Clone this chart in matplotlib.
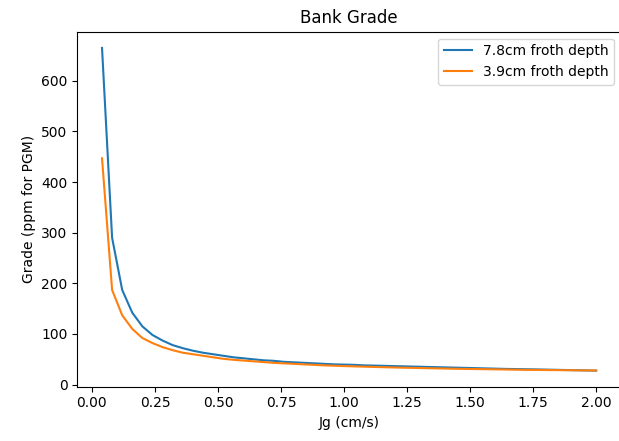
import matplotlib
matplotlib.use('Agg')
import matplotlib.pyplot as plt

# Superficial gas velocity [cm/s]
jg = [0.04, 0.08, 0.12, 0.16, 0.20, 0.24, 0.28, 0.32, 0.36, 0.40,
      0.44, 0.48, 0.52, 0.56, 0.60, 0.64, 0.68, 0.72, 0.76, 0.80,
      0.84, 0.88, 0.92, 0.96, 1.00, 1.04, 1.08, 1.12, 1.16, 1.20,
      1.24, 1.28, 1.32, 1.36, 1.40, 1.44, 1.48, 1.52, 1.56, 1.60,
      1.64, 1.68, 1.72, 1.76, 1.80, 1.84, 1.88, 1.92, 1.96, 2.00]

# Bank grade, 7.8 cm froth depth
grade_deep = [665, 290, 187, 142, 115, 98, 87, 78, 72, 67,
              63, 60, 57, 54, 52, 50, 48, 47, 45, 44,
              43, 42, 41, 40, 39.5, 39, 38, 37.5, 37, 36.5,
              36, 35.5, 35, 34.5, 34, 33.5, 33, 32.5, 32, 31.5,
              31, 30.7, 30.3, 30, 29.6, 29.2, 28.8, 28.4, 28, 27.6]

# Bank grade, 3.9 cm froth depth
grade_shallow = [447, 187, 137, 110, 92, 82, 74, 68, 63, 60,
                 57, 54, 51, 49, 47.5, 46, 44.5, 43, 42, 41,
                 40, 39, 38, 37.3, 36.6, 36, 35.4, 34.8, 34.3, 33.8,
                 33.3, 32.9, 32.5, 32.1, 31.7, 31.3, 31, 30.7, 30.4, 30.1,
                 29.8, 29.5, 29.2, 29, 28.8, 28.6, 28.4, 28.2, 28, 27.8]

fig = plt.figure(figsize=(6.19, 4.41), dpi=100)
ax = fig.add_axes([0.1249, 0.123, 1.003 - 0.1249, 0.928 - 0.123])

ax.plot(jg, grade_deep, label='7.8cm froth depth')
ax.plot(jg, grade_shallow, label='3.9cm froth depth')
ax.set_title('Bank Grade')
ax.set_xlabel('Jg (cm/s)')
ax.set_ylabel('Grade (ppm for PGM)')
ax.legend(loc='upper right')

fig.savefig('out.png', dpi=100)
